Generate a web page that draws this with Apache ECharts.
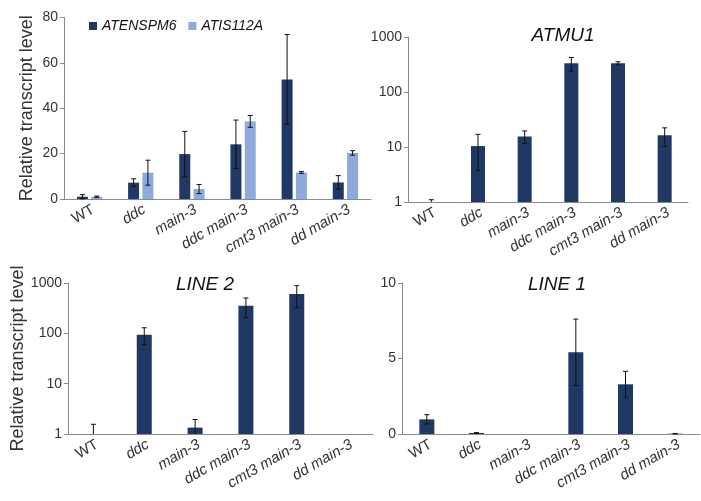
<!DOCTYPE html>
<html><head><meta charset="utf-8">
<script src="https://cdn.jsdelivr.net/npm/echarts@6/dist/echarts.min.js"></script>
<style>html,body{margin:0;padding:0;background:#fff}#c{width:701px;height:501px}</style>
</head><body><div id="c"></div>
<script>
var categories = ['WT', 'ddc', 'main-3', 'ddc main-3', 'cmt3 main-3', 'dd main-3'];
var seriesNames = ['ATENSPM6', 'ATIS112A'];
var titles = ['ATMU1', 'LINE 2', 'LINE 1'];
var yName = 'Relative transcript level';

var atenspm6    = [1.0, 7.2, 19.8, 24.1, 52.7, 7.3];
var atenspm6Err = [0.9, 1.7, 10.0, 10.7, 19.8, 3.0];
var atis112a    = [1.0, 11.6, 4.4, 34.2, 11.7, 20.3];
var atis112aErr = [0.3, 5.5, 2.0, 2.6, 0.4, 1.0];
var atmu1       = [1.0, 10.4, 15.6, 332, 332, 16.3];
var atmu1Err    = [0.1, 6.6, 4.0, 93, 22, 6.0];
var line2       = [1.0, 94, 1.34, 354, 604, null];
var line2Err    = [0.56, 35, 0.6, 150, 280, null];
var line1       = [0.97, 0.07, 0.0, 5.41, 3.29, 0.02];
var line1Err    = [0.31, 0.02, 0, 2.2, 0.86, 0.01];

var DARK = '#203864', LIGHT = '#8eaadb', AXIS = '#8a8a8a', TXT = '#333';
var FONT = 'Liberation Sans, Arial, sans-serif';

function errData(vals, errs) {
  var out = [];
  for (var i = 0; i < vals.length; i++) {
    if (vals[i] != null && errs[i] != null && errs[i] > 0) out.push([i, vals[i], errs[i]]);
  }
  return out;
}
function errRender(offset, minVal) {
  return function (params, api) {
    var x = api.value(0), v = api.value(1), e = api.value(2);
    var hi = v + e, lo = v - e, drawLo = true;
    if (lo < minVal) { lo = minVal; drawLo = false; }
    var pHi = api.coord([x, hi]), pLo = api.coord([x, lo]);
    var cx = pHi[0] + offset, w = 2.5;
    var st = { stroke: '#111', lineWidth: 1 };
    var ch = [
      { type: 'line', shape: { x1: cx, y1: pHi[1], x2: cx, y2: pLo[1] }, style: st },
      { type: 'line', shape: { x1: cx - w, y1: pHi[1], x2: cx + w, y2: pHi[1] }, style: st }
    ];
    if (drawLo) ch.push({ type: 'line', shape: { x1: cx - w, y1: pLo[1], x2: cx + w, y2: pLo[1] }, style: st });
    return { type: 'group', children: ch };
  };
}
function xAxisDef(gi) {
  return {
    type: 'category', gridIndex: gi, data: categories,
    axisLine: { lineStyle: { color: AXIS, width: 1 } },
    axisTick: { show: false },
    axisLabel: {
      interval: 0, rotate: 30, margin: 3, color: TXT, fontFamily: FONT, verticalAlign: 'top',
      formatter: function (v) { return v === 'WT' ? '{n|WT}' : '{i|' + v + '}'; },
      rich: {
        n: { fontSize: 15, fontStyle: 'normal', color: TXT, fontFamily: FONT },
        i: { fontSize: 15, fontStyle: 'italic', color: TXT, fontFamily: FONT }
      }
    }
  };
}
function yAxisDef(gi, opts) {
  var a = {
    gridIndex: gi,
    axisLine: { show: true, lineStyle: { color: AXIS, width: 1 } },
    axisTick: { show: true, length: 4, lineStyle: { color: AXIS } },
    axisLabel: { fontSize: 14, color: TXT, fontFamily: FONT, margin: 6, formatter: function (v) { return String(v); } },
    splitLine: { show: false }
  };
  for (var k in opts) a[k] = opts[k];
  return a;
}
var titleStyle = { fontSize: 19, fontStyle: 'italic', fontWeight: 'normal', color: '#111', fontFamily: FONT };

var chart = echarts.init(document.getElementById('c'), null, { renderer: 'canvas' });
chart.setOption({
  animation: false,
  backgroundColor: '#fff',
  textStyle: { fontFamily: FONT },
  title: [
    { text: titles[0], left: 558, top: 21, textAlign: 'center', textStyle: titleStyle },
    { text: titles[1], left: 200, top: 270, textAlign: 'center', textStyle: titleStyle },
    { text: titles[2], left: 552, top: 270, textAlign: 'center', textStyle: titleStyle }
  ],
  legend: {
    data: seriesNames, left: 84, top: 14, icon: 'rect', itemWidth: 8, itemHeight: 8, itemGap: 12,
    textStyle: { fontSize: 14, fontStyle: 'italic', color: '#111', fontFamily: FONT }
  },
  grid: [
    { left: 64, top: 17.5, width: 307, height: 181.5 },
    { left: 408, top: 37, width: 280, height: 165 },
    { left: 68, top: 283, width: 305, height: 151 },
    { left: 402, top: 283, width: 298, height: 151 }
  ],
  xAxis: [xAxisDef(0), xAxisDef(1), xAxisDef(2), xAxisDef(3)],
  yAxis: [
    yAxisDef(0, { type: 'value', min: 0, max: 80, interval: 20, name: yName, nameLocation: 'middle', nameGap: 28,
      nameTextStyle: { fontSize: 18, color: TXT, fontFamily: FONT } }),
    yAxisDef(1, { type: 'log', logBase: 10, min: 1, max: 1000 }),
    yAxisDef(2, { type: 'log', logBase: 10, min: 1, max: 1000, name: yName, nameLocation: 'middle', nameGap: 30,
      nameTextStyle: { fontSize: 18, color: TXT, fontFamily: FONT } }),
    yAxisDef(3, { type: 'value', min: 0, max: 10, interval: 5 })
  ],
  series: [
    { name: seriesNames[0], type: 'bar', xAxisIndex: 0, yAxisIndex: 0, data: atenspm6, barWidth: 11, barGap: '30%', itemStyle: { color: DARK } },
    { name: seriesNames[1], type: 'bar', xAxisIndex: 0, yAxisIndex: 0, data: atis112a, barWidth: 11, barGap: '30%', itemStyle: { color: LIGHT } },
    { type: 'custom', xAxisIndex: 0, yAxisIndex: 0, data: errData(atenspm6, atenspm6Err), renderItem: errRender(-7.15, 0), z: 5 },
    { type: 'custom', xAxisIndex: 0, yAxisIndex: 0, data: errData(atis112a, atis112aErr), renderItem: errRender(7.15, 0), z: 5 },

    { type: 'bar', xAxisIndex: 1, yAxisIndex: 1, data: atmu1, barWidth: 14, itemStyle: { color: DARK } },
    { type: 'custom', xAxisIndex: 1, yAxisIndex: 1, data: errData(atmu1, atmu1Err), renderItem: errRender(0, 1), z: 5 },

    { type: 'bar', xAxisIndex: 2, yAxisIndex: 2, data: line2, barWidth: 15, itemStyle: { color: DARK } },
    { type: 'custom', xAxisIndex: 2, yAxisIndex: 2, data: errData(line2, line2Err), renderItem: errRender(0, 1), z: 5 },

    { type: 'bar', xAxisIndex: 3, yAxisIndex: 3, data: line1, barWidth: 15, itemStyle: { color: DARK } },
    { type: 'custom', xAxisIndex: 3, yAxisIndex: 3, data: errData(line1, line1Err), renderItem: errRender(0, 0), z: 5 }
  ]
});
</script></body></html>
